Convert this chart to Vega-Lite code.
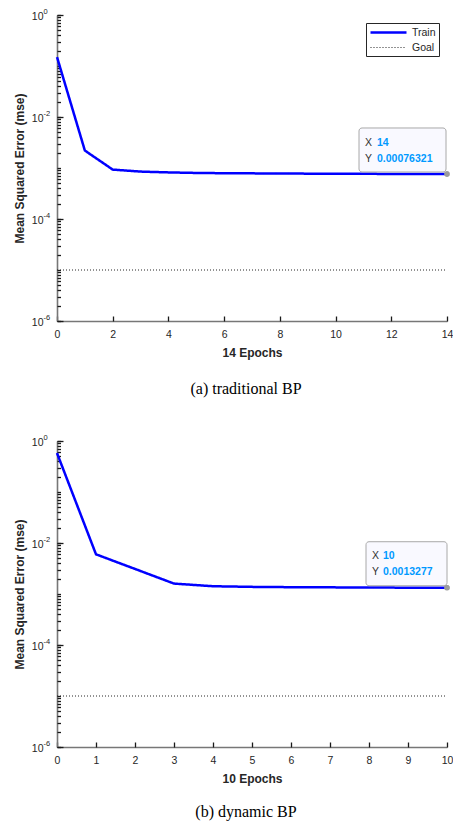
{
  "$schema": "https://vega.github.io/schema/vega-lite/v6.json",
  "padding": {"left": 13, "top": 7, "right": 0, "bottom": 4},
  "spacing": 36,
  "config": {
    "font": "Liberation Sans",
    "view": {"stroke": null},
    "axis": {
      "grid": false,
      "labelFont": "Liberation Sans",
      "labelFontSize": 10.5,
      "labelColor": "#262626",
      "titleFont": "Liberation Sans",
      "titleFontSize": 12,
      "titleFontWeight": "bold",
      "titleColor": "#262626",
      "domainColor": "#777777",
      "domainWidth": 1.6
    },
    "legend": {
      "orient": "top-right",
      "offset": 8,
      "title": null,
      "strokeColor": "#262626",
      "fillColor": "white",
      "padding": 3,
      "labelFont": "Liberation Sans",
      "labelFontSize": 10.5,
      "labelColor": "#262626",
      "labelOffset": 30,
      "rowPadding": 4,
      "symbolType": "M-1,0H6.2",
      "symbolSize": 100
    }
  },
  "datasets": {
    "a": [
      {"epoch": 0, "mse": 0.15, "series": "Train"},
      {"epoch": 1, "mse": 0.0022, "series": "Train"},
      {"epoch": 2, "mse": 0.00093, "series": "Train"},
      {"epoch": 3, "mse": 0.00085, "series": "Train"},
      {"epoch": 4, "mse": 0.00082, "series": "Train"},
      {"epoch": 5, "mse": 0.0008, "series": "Train"},
      {"epoch": 6, "mse": 0.00079, "series": "Train"},
      {"epoch": 7, "mse": 0.000785, "series": "Train"},
      {"epoch": 8, "mse": 0.00078, "series": "Train"},
      {"epoch": 9, "mse": 0.000775, "series": "Train"},
      {"epoch": 10, "mse": 0.00077, "series": "Train"},
      {"epoch": 11, "mse": 0.000768, "series": "Train"},
      {"epoch": 12, "mse": 0.000766, "series": "Train"},
      {"epoch": 13, "mse": 0.000764, "series": "Train"},
      {"epoch": 14, "mse": 0.00076321, "series": "Train"},
      {"epoch": 0, "mse": 0.00001, "series": "Goal"},
      {"epoch": 14, "mse": 0.00001, "series": "Goal"}
    ],
    "b": [
      {"epoch": 0, "mse": 0.58, "series": "Train"},
      {"epoch": 1, "mse": 0.006, "series": "Train"},
      {"epoch": 2, "mse": 0.0031, "series": "Train"},
      {"epoch": 3, "mse": 0.0016, "series": "Train"},
      {"epoch": 4, "mse": 0.00142, "series": "Train"},
      {"epoch": 5, "mse": 0.00138, "series": "Train"},
      {"epoch": 6, "mse": 0.00136, "series": "Train"},
      {"epoch": 7, "mse": 0.00135, "series": "Train"},
      {"epoch": 8, "mse": 0.00134, "series": "Train"},
      {"epoch": 9, "mse": 0.00133, "series": "Train"},
      {"epoch": 10, "mse": 0.0013277, "series": "Train"},
      {"epoch": 0, "mse": 0.00001, "series": "Goal"},
      {"epoch": 10, "mse": 0.00001, "series": "Goal"}
    ]
  },
  "vconcat": [
    {
      "width": 390,
      "height": 306,
      "data": {"name": "a"},
      "title": {"text": "(a)  traditional BP", "orient": "bottom", "anchor": "middle", "frame": "group", "dx": -6, "offset": 22, "font": "Liberation Serif", "fontSize": 16, "fontWeight": "normal", "color": "#000000"},
      "resolve": {"axis": {"x": "independent", "y": "independent"}},
      "layer": [
        {
          "mark": {"type": "line", "clip": false},
          "encoding": {
            "x": {"field": "epoch", "type": "quantitative", "scale": {"domain": [0, 14], "nice": false},
                  "axis": {"values": [0, 2, 4, 6, 8, 10, 12, 14], "title": "14 Epochs", "ticks": false, "labelPadding": 8, "titlePadding": 8, "labelFlush": false}},
            "y": {"field": "mse", "type": "quantitative", "scale": {"type": "log", "domain": [0.000001, 1], "nice": false},
                  "axis": {"values": [0.000001, 0.0001, 0.01, 1], "title": "Mean Squared Error  (mse)", "ticks": false, "labelPadding": 14, "labelOffset": 1.5, "labelAlign": "right", "titlePadding": 5, "labelExpr": "'10'"}},
            "color": {"field": "series", "type": "nominal", "scale": {"domain": ["Train", "Goal"], "range": ["#0000ff", "#262626"]}},
            "strokeDash": {"field": "series", "type": "nominal", "scale": {"domain": ["Train", "Goal"], "range": [[1, 0], [1, 2]]}},
            "strokeWidth": {"field": "series", "type": "nominal", "scale": {"domain": ["Train", "Goal"], "range": [2.5, 1]}}
          }
        },
        {
          "transform": [{"filter": "datum.series == 'Train' && datum.epoch == 14"}],
          "mark": {"type": "rect", "xOffset": -88, "x2Offset": -1, "yOffset": -46, "y2Offset": -2, "fill": "#f9f9ff", "stroke": "#a8a8a8", "strokeWidth": 1, "cornerRadius": 3},
          "encoding": {
            "x": {"field": "epoch", "type": "quantitative", "axis": null},
            "x2": {"field": "epoch"},
            "y": {"field": "mse", "type": "quantitative", "axis": {"orient": "left", "values": [0.000001, 0.0001, 0.01, 1], "ticks": false, "domain": false, "title": null, "labelAlign": "left", "labelPadding": 14, "labelOffset": -3.5, "labelFontSize": 7.5, "labelExpr": "'' + round(log(datum.value)/LN10)"}},
            "y2": {"field": "mse"}
          }
        },
        {
          "transform": [{"filter": "datum.series == 'Train' && datum.epoch == 14"}],
          "mark": {"type": "text", "text": "X", "dx": -82, "dy": -31, "align": "left", "baseline": "middle", "fontSize": 10.5, "color": "#333333"},
          "encoding": {
            "x": {"field": "epoch", "type": "quantitative", "axis": null},
            "y": {"field": "mse", "type": "quantitative", "axis": null}
          }
        },
        {
          "transform": [{"filter": "datum.series == 'Train' && datum.epoch == 14"}],
          "mark": {"type": "text", "text": "Y", "dx": -82, "dy": -15, "align": "left", "baseline": "middle", "fontSize": 10.5, "color": "#333333"},
          "encoding": {
            "x": {"field": "epoch", "type": "quantitative", "axis": null},
            "y": {"field": "mse", "type": "quantitative", "axis": null}
          }
        },
        {
          "transform": [{"filter": "datum.series == 'Train' && datum.epoch == 14"}],
          "mark": {"type": "text", "dx": -70, "dy": -31, "align": "left", "baseline": "middle", "fontSize": 10.5, "fontWeight": "bold", "color": "#0099ff"},
          "encoding": {
            "x": {"field": "epoch", "type": "quantitative", "axis": null},
            "y": {"field": "mse", "type": "quantitative", "axis": null},
            "text": {"field": "epoch", "type": "quantitative", "format": "d"}
          }
        },
        {
          "transform": [{"filter": "datum.series == 'Train' && datum.epoch == 14"}],
          "mark": {"type": "text", "dx": -70, "dy": -15, "align": "left", "baseline": "middle", "fontSize": 10.5, "fontWeight": "bold", "color": "#0099ff"},
          "encoding": {
            "x": {"field": "epoch", "type": "quantitative", "axis": null},
            "y": {"field": "mse", "type": "quantitative", "axis": null},
            "text": {"field": "mse", "type": "quantitative", "format": ".5g"}
          }
        },
        {
          "transform": [{"filter": "datum.series == 'Train' && datum.epoch == 14"}],
          "mark": {"type": "point", "filled": true, "size": 28, "color": "#9c9c9c", "opacity": 1, "clip": false},
          "encoding": {
            "x": {"field": "epoch", "type": "quantitative", "axis": {"orient": "bottom", "values": [0, 2, 4, 6, 8, 10, 12, 14], "labels": false, "domain": false, "title": null, "ticks": true, "tickSize": 5, "offset": -5, "tickColor": "#1a1a1a", "tickWidth": 1.3}},
            "y": {"field": "mse", "type": "quantitative", "axis": {"orient": "left", "tickCount": 50, "labels": false, "domain": false, "title": null, "ticks": true, "tickSize": 3.5, "offset": -3.5, "tickColor": "#1a1a1a", "tickWidth": 1.3}}
          }
        },
        {
          "transform": [{"filter": "datum.series == 'Train' && datum.epoch == 14"}],
          "mark": {"type": "point", "filled": true, "size": 28, "color": "#9c9c9c", "opacity": 1, "clip": false},
          "encoding": {
            "x": {"field": "epoch", "type": "quantitative", "axis": null},
            "y": {"field": "mse", "type": "quantitative", "axis": {"orient": "left", "values": [0.000001, 0.0001, 0.01, 1], "labels": false, "domain": false, "title": null, "ticks": true, "tickSize": 6, "offset": -6, "tickColor": "#1a1a1a", "tickWidth": 1.3}}
          }
        }
      ]
    },
    {
      "width": 390,
      "height": 306,
      "data": {"name": "b"},
      "title": {"text": "(b)  dynamic BP", "orient": "bottom", "anchor": "middle", "frame": "group", "dx": -6, "offset": 19, "font": "Liberation Serif", "fontSize": 16, "fontWeight": "normal", "color": "#000000"},
      "resolve": {"axis": {"x": "independent", "y": "independent"}},
      "layer": [
        {
          "mark": {"type": "line", "clip": false},
          "encoding": {
            "x": {"field": "epoch", "type": "quantitative", "scale": {"domain": [0, 10], "nice": false},
                  "axis": {"values": [0, 1, 2, 3, 4, 5, 6, 7, 8, 9, 10], "title": "10 Epochs", "ticks": false, "labelPadding": 8, "titlePadding": 8, "labelFlush": false}},
            "y": {"field": "mse", "type": "quantitative", "scale": {"type": "log", "domain": [0.000001, 1], "nice": false},
                  "axis": {"values": [0.000001, 0.0001, 0.01, 1], "title": "Mean Squared Error  (mse)", "ticks": false, "labelPadding": 14, "labelOffset": 1.5, "labelAlign": "right", "titlePadding": 5, "labelExpr": "'10'"}},
            "color": {"field": "series", "type": "nominal", "scale": {"domain": ["Train", "Goal"], "range": ["#0000ff", "#262626"]}},
            "strokeDash": {"field": "series", "type": "nominal", "scale": {"domain": ["Train", "Goal"], "range": [[1, 0], [1, 2]]}},
            "strokeWidth": {"field": "series", "type": "nominal", "scale": {"domain": ["Train", "Goal"], "range": [2.5, 1]}}
          }
        },
        {
          "transform": [{"filter": "datum.series == 'Train' && datum.epoch == 10"}],
          "mark": {"type": "rect", "xOffset": -81, "x2Offset": 0, "yOffset": -46, "y2Offset": -2, "fill": "#f9f9ff", "stroke": "#a8a8a8", "strokeWidth": 1, "cornerRadius": 3},
          "encoding": {
            "x": {"field": "epoch", "type": "quantitative", "axis": null},
            "x2": {"field": "epoch"},
            "y": {"field": "mse", "type": "quantitative", "axis": {"orient": "left", "values": [0.000001, 0.0001, 0.01, 1], "ticks": false, "domain": false, "title": null, "labelAlign": "left", "labelPadding": 14, "labelOffset": -3.5, "labelFontSize": 7.5, "labelExpr": "'' + round(log(datum.value)/LN10)"}},
            "y2": {"field": "mse"}
          }
        },
        {
          "transform": [{"filter": "datum.series == 'Train' && datum.epoch == 10"}],
          "mark": {"type": "text", "text": "X", "dx": -75, "dy": -32, "align": "left", "baseline": "middle", "fontSize": 10.5, "color": "#333333"},
          "encoding": {
            "x": {"field": "epoch", "type": "quantitative", "axis": null},
            "y": {"field": "mse", "type": "quantitative", "axis": null}
          }
        },
        {
          "transform": [{"filter": "datum.series == 'Train' && datum.epoch == 10"}],
          "mark": {"type": "text", "text": "Y", "dx": -75, "dy": -16, "align": "left", "baseline": "middle", "fontSize": 10.5, "color": "#333333"},
          "encoding": {
            "x": {"field": "epoch", "type": "quantitative", "axis": null},
            "y": {"field": "mse", "type": "quantitative", "axis": null}
          }
        },
        {
          "transform": [{"filter": "datum.series == 'Train' && datum.epoch == 10"}],
          "mark": {"type": "text", "dx": -64, "dy": -32, "align": "left", "baseline": "middle", "fontSize": 10.5, "fontWeight": "bold", "color": "#0099ff"},
          "encoding": {
            "x": {"field": "epoch", "type": "quantitative", "axis": null},
            "y": {"field": "mse", "type": "quantitative", "axis": null},
            "text": {"field": "epoch", "type": "quantitative", "format": "d"}
          }
        },
        {
          "transform": [{"filter": "datum.series == 'Train' && datum.epoch == 10"}],
          "mark": {"type": "text", "dx": -64, "dy": -16, "align": "left", "baseline": "middle", "fontSize": 10.5, "fontWeight": "bold", "color": "#0099ff"},
          "encoding": {
            "x": {"field": "epoch", "type": "quantitative", "axis": null},
            "y": {"field": "mse", "type": "quantitative", "axis": null},
            "text": {"field": "mse", "type": "quantitative", "format": ".5g"}
          }
        },
        {
          "transform": [{"filter": "datum.series == 'Train' && datum.epoch == 10"}],
          "mark": {"type": "point", "filled": true, "size": 28, "color": "#9c9c9c", "opacity": 1, "clip": false},
          "encoding": {
            "x": {"field": "epoch", "type": "quantitative", "axis": {"orient": "bottom", "values": [0, 1, 2, 3, 4, 5, 6, 7, 8, 9, 10], "labels": false, "domain": false, "title": null, "ticks": true, "tickSize": 5, "offset": -5, "tickColor": "#1a1a1a", "tickWidth": 1.3}},
            "y": {"field": "mse", "type": "quantitative", "axis": {"orient": "left", "tickCount": 50, "labels": false, "domain": false, "title": null, "ticks": true, "tickSize": 3.5, "offset": -3.5, "tickColor": "#1a1a1a", "tickWidth": 1.3}}
          }
        },
        {
          "transform": [{"filter": "datum.series == 'Train' && datum.epoch == 10"}],
          "mark": {"type": "point", "filled": true, "size": 28, "color": "#9c9c9c", "opacity": 1, "clip": false},
          "encoding": {
            "x": {"field": "epoch", "type": "quantitative", "axis": null},
            "y": {"field": "mse", "type": "quantitative", "axis": {"orient": "left", "values": [0.000001, 0.0001, 0.01, 1], "labels": false, "domain": false, "title": null, "ticks": true, "tickSize": 6, "offset": -6, "tickColor": "#1a1a1a", "tickWidth": 1.3}}
          }
        }
      ]
    }
  ]
}
